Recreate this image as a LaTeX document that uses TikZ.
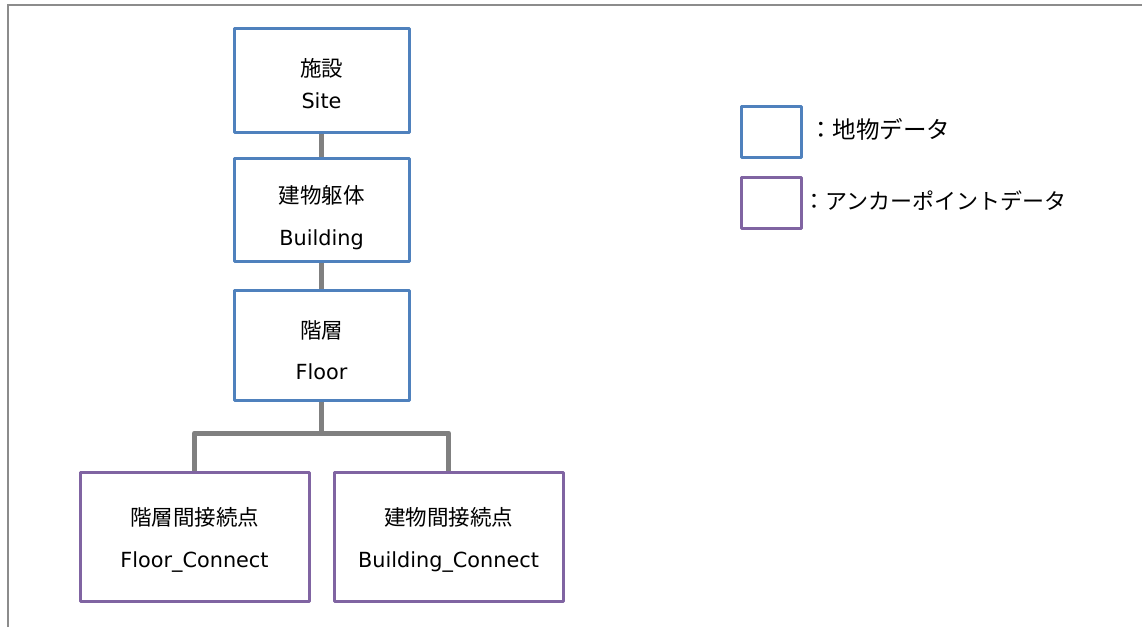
\documentclass[tikz,border=0pt]{standalone}
\usepackage{fontspec}
\setmainfont{DejaVu Sans}
\newfontfamily\jpfont{Noto Sans CJK JP}
\definecolor{geoblue}{HTML}{4F81BD}
\definecolor{anchorpurple}{HTML}{8064A2}
\definecolor{linkgray}{HTML}{808080}
\definecolor{framegray}{HTML}{8C8C8C}
\begin{document}
\begin{tikzpicture}[x=1pt,y=-1pt,
  geobox/.style={draw=geoblue,line width=3pt,line join=round,fill=white,inner sep=0pt,minimum width=175pt,minimum height=104pt},
  anchorbox/.style={draw=anchorpurple,line width=3pt,line join=round,fill=white,inner sep=0pt,minimum width=229pt,minimum height=129pt},
  legblue/.style={draw=geoblue,line width=3pt,line join=round,inner sep=0pt,minimum width=60pt,minimum height=51pt},
  legpurple/.style={draw=anchorpurple,line width=3pt,line join=round,inner sep=0pt,minimum width=60pt,minimum height=51pt},
  link/.style={draw=linkgray,line width=5pt,line join=round},
  jptext/.style={font=\jpfont\fontsize{21.5}{25}\selectfont,inner sep=0pt},
  latext/.style={font=\fontsize{20.8}{25}\selectfont,inner sep=0pt},
  legtext/.style={font=\jpfont\fontsize{22}{26}\selectfont,inner sep=0pt,anchor=west}]
\useasboundingbox (0,0) rectangle (1142,627);
\draw[framegray,line width=2pt] (8,627) -- (8,5) -- (1142,5);
% boxes
\node[geobox] (site) at (321.5,80) {};
\node[geobox,minimum height=103pt] (bldg) at (321.5,209.5) {};
\node[geobox,minimum height=110pt] (floor) at (321.5,345) {};
\node[anchorbox] (fc) at (194.5,536.5) {};
\node[anchorbox] (bc) at (448.5,536.5) {};
% connectors
\coordinate (j) at (321.5,433);
\draw[link] (site.south) -- (bldg.north);
\draw[link] (bldg.south) -- (floor.north);
\draw[link] (floor.south) -- (j);
\draw[link] (fc.north) |- (j) -| (bc.north);
% texts
\node[jptext] (t1) at (321.5,68) {施設};
\node[latext] (t2) at (321.5,101) {Site};
\node[jptext] (t3) at (321.5,195) {建物躯体};
\node[latext] (t4) at (321.5,240) {Building};
\node[jptext] (t5) at (321.5,330) {階層};
\node[latext] (t6) at (321.5,372) {Floor};
\node[jptext] (t7) at (194.5,517) {階層間接続点};
\node[latext] (t8) at (194.5,562) {Floor\_Connect};
\node[jptext] (t9) at (448.5,517) {建物間接続点};
\node[latext] (t10) at (448.5,562) {Building\_Connect};
% legend
\node[legblue] (lb) at (771,131.5) {};
\node[legpurple] (lp) at (771,202.5) {};
\node[legtext,font=\jpfont\fontsize{23.5}{27}\selectfont] (lt1) at (809,129) {：地物データ};
\node[legtext] (lt2) at (803,201) {：アンカーポイントデータ};
\end{tikzpicture}
\end{document}
